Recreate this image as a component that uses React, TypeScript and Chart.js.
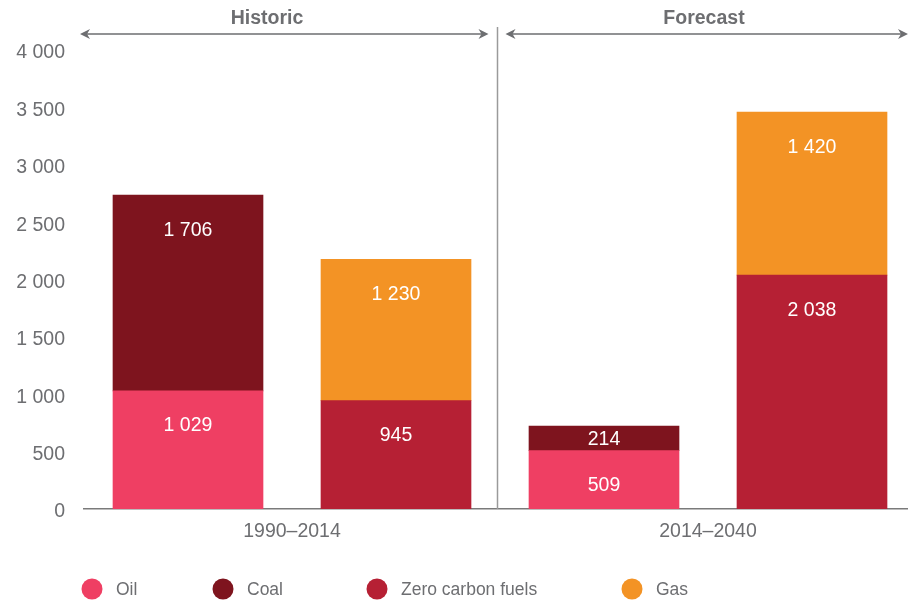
import React, { useEffect, useRef } from "react";
import { Chart, registerables } from "chart.js";

Chart.register(...registerables);

const barSlots = ["Historic A", "Historic B", "Forecast A", "Forecast B"];
const groupLabels = ["1990–2014", "2014–2040"];
const headerLabels = ["Historic", "Forecast"];
const seriesNames = ["Oil", "Coal", "Zero carbon fuels", "Gas"];
const oil = [1029, null, 509, null];
const coal = [1706, null, 214, null];
const zeroCarbon = [null, 945, null, 2038];
const gas = [null, 1230, null, 1420];
const yTicks = [0, 500, 1000, 1500, 2000, 2500, 3000, 3500, 4000];

const colors = ["#EF3F63", "#7E141E", "#B62034", "#F39325"];
const GREY = "#6d6e71";
const FONT = "'Liberation Sans', Arial, Helvetica, sans-serif";

const fmt = (v: number) => String(v).replace(/\B(?=(\d{3})+(?!\d))/g, " ");

const decorPlugin = {
  id: "decor",
  afterDatasetsDraw(chart: any) {
    const ctx = chart.ctx;
    ctx.save();
    ctx.fillStyle = "#ffffff";
    ctx.font = `19.5px ${FONT}`;
    ctx.textAlign = "center";
    ctx.textBaseline = "middle";
    chart.data.datasets.forEach((ds: any, di: number) => {
      const meta = chart.getDatasetMeta(di);
      meta.data.forEach((el: any, i: number) => {
        const v = ds.data[i];
        if (v == null) return;
        const top = Math.min(el.y, el.base);
        const bot = Math.max(el.y, el.base);
        const h = bot - top;
        const y = h > 40 ? top + 35 : (top + bot) / 2 + 1;
        ctx.fillText(fmt(v), el.x, y);
      });
    });
    ctx.restore();
  },
  afterDraw(chart: any) {
    const ctx = chart.ctx;
    const area = chart.chartArea;
    const xs = chart.scales.x;
    const divX = Math.round(xs.getPixelForValue(1.5)) - 2.5;
    ctx.save();
    // divider
    ctx.strokeStyle = "#9a9a9a";
    ctx.lineWidth = 1.5;
    ctx.beginPath();
    ctx.moveTo(divX, 27);
    ctx.lineTo(divX, area.bottom);
    ctx.stroke();

    // arrows
    const arrowY = 34;
    const drawArrow = (x1: number, x2: number) => {
      ctx.strokeStyle = GREY;
      ctx.fillStyle = GREY;
      ctx.lineWidth = 1.3;
      ctx.beginPath();
      ctx.moveTo(x1 + 4, arrowY);
      ctx.lineTo(x2 - 4, arrowY);
      ctx.stroke();
      ctx.beginPath();
      ctx.moveTo(x1, arrowY);
      ctx.lineTo(x1 + 10, arrowY - 5);
      ctx.lineTo(x1 + 7, arrowY);
      ctx.lineTo(x1 + 10, arrowY + 5);
      ctx.closePath();
      ctx.fill();
      ctx.beginPath();
      ctx.moveTo(x2, arrowY);
      ctx.lineTo(x2 - 10, arrowY - 5);
      ctx.lineTo(x2 - 7, arrowY);
      ctx.lineTo(x2 - 10, arrowY + 5);
      ctx.closePath();
      ctx.fill();
    };
    drawArrow(80, divX - 9);
    drawArrow(divX + 8, 908);

    ctx.font = `bold 19.5px ${FONT}`;
    ctx.fillStyle = GREY;
    ctx.textAlign = "center";
    ctx.textBaseline = "middle";
    ctx.fillText(headerLabels[0], 267, 19);
    ctx.fillText(headerLabels[1], 704, 19);

    // group labels
    ctx.font = `19.5px ${FONT}`;
    ctx.fillStyle = GREY;
    ctx.fillText(groupLabels[0], (xs.getPixelForValue(0) + xs.getPixelForValue(1)) / 2, 532);
    ctx.fillText(groupLabels[1], (xs.getPixelForValue(2) + xs.getPixelForValue(3)) / 2, 532);

    // legend
    ctx.font = `17.5px ${FONT}`;
    const legendX = [92, 223, 377, 632];
    const legendY = 589;
    ctx.textAlign = "left";
    seriesNames.forEach((name, i) => {
      ctx.fillStyle = colors[i];
      ctx.beginPath();
      ctx.arc(legendX[i], legendY, 10.5, 0, Math.PI * 2);
      ctx.fill();
      ctx.fillStyle = GREY;
      ctx.fillText(name, legendX[i] + 24, legendY + 1);
    });
    ctx.restore();
  },
};

export default function App() {
  const ref = useRef<HTMLCanvasElement | null>(null);
  useEffect(() => {
    if (!ref.current) return;
    const series = [oil, coal, zeroCarbon, gas];
    const chart = new Chart(ref.current, {
      type: "bar",
      data: {
        labels: barSlots,
        datasets: series.map((d, i) => ({
          label: seriesNames[i],
          data: d,
          backgroundColor: colors[i],
          borderWidth: 0,
          barThickness: 150,
          stack: "s",
          skipNull: true,
        })) as any,
      },
      options: {
        responsive: false,
        animation: false,
        layout: { padding: { top: 50, left: 0, right: 0, bottom: 0 } },
        plugins: {
          legend: { display: false },
          tooltip: { enabled: false },
        },
        scales: {
          x: {
            stacked: true,
            grid: { display: false, drawTicks: false },
            border: { display: true, color: "#7a7a7a", width: 1.5 },
            ticks: { display: false },
            afterFit: (s: any) => {
              s.height = 92;
            },
          },
          y: {
            stacked: true,
            min: 0,
            max: 4000,
            afterBuildTicks: (s: any) => {
              s.ticks = yTicks.map((v) => ({ value: v }));
            },
            grid: { display: false, drawTicks: false },
            border: { display: false },
            ticks: {
              padding: 19,
              labelOffset: 3,
              color: GREY,
              font: { size: 19.5, family: FONT },
              callback: (v: any) => fmt(Number(v)),
            },
            afterFit: (s: any) => {
              s.width = 84;
            },
          },
        },
      } as any,
      plugins: [decorPlugin],
    });
    return () => chart.destroy();
  }, []);
  return (
    <div style={{ position: "fixed", left: 0, top: 0, width: 908, height: 601, overflow: "hidden", background: "#fff" }}>
      <canvas ref={ref} width={916} height={601} style={{ display: "block" }} />
    </div>
  );
}
